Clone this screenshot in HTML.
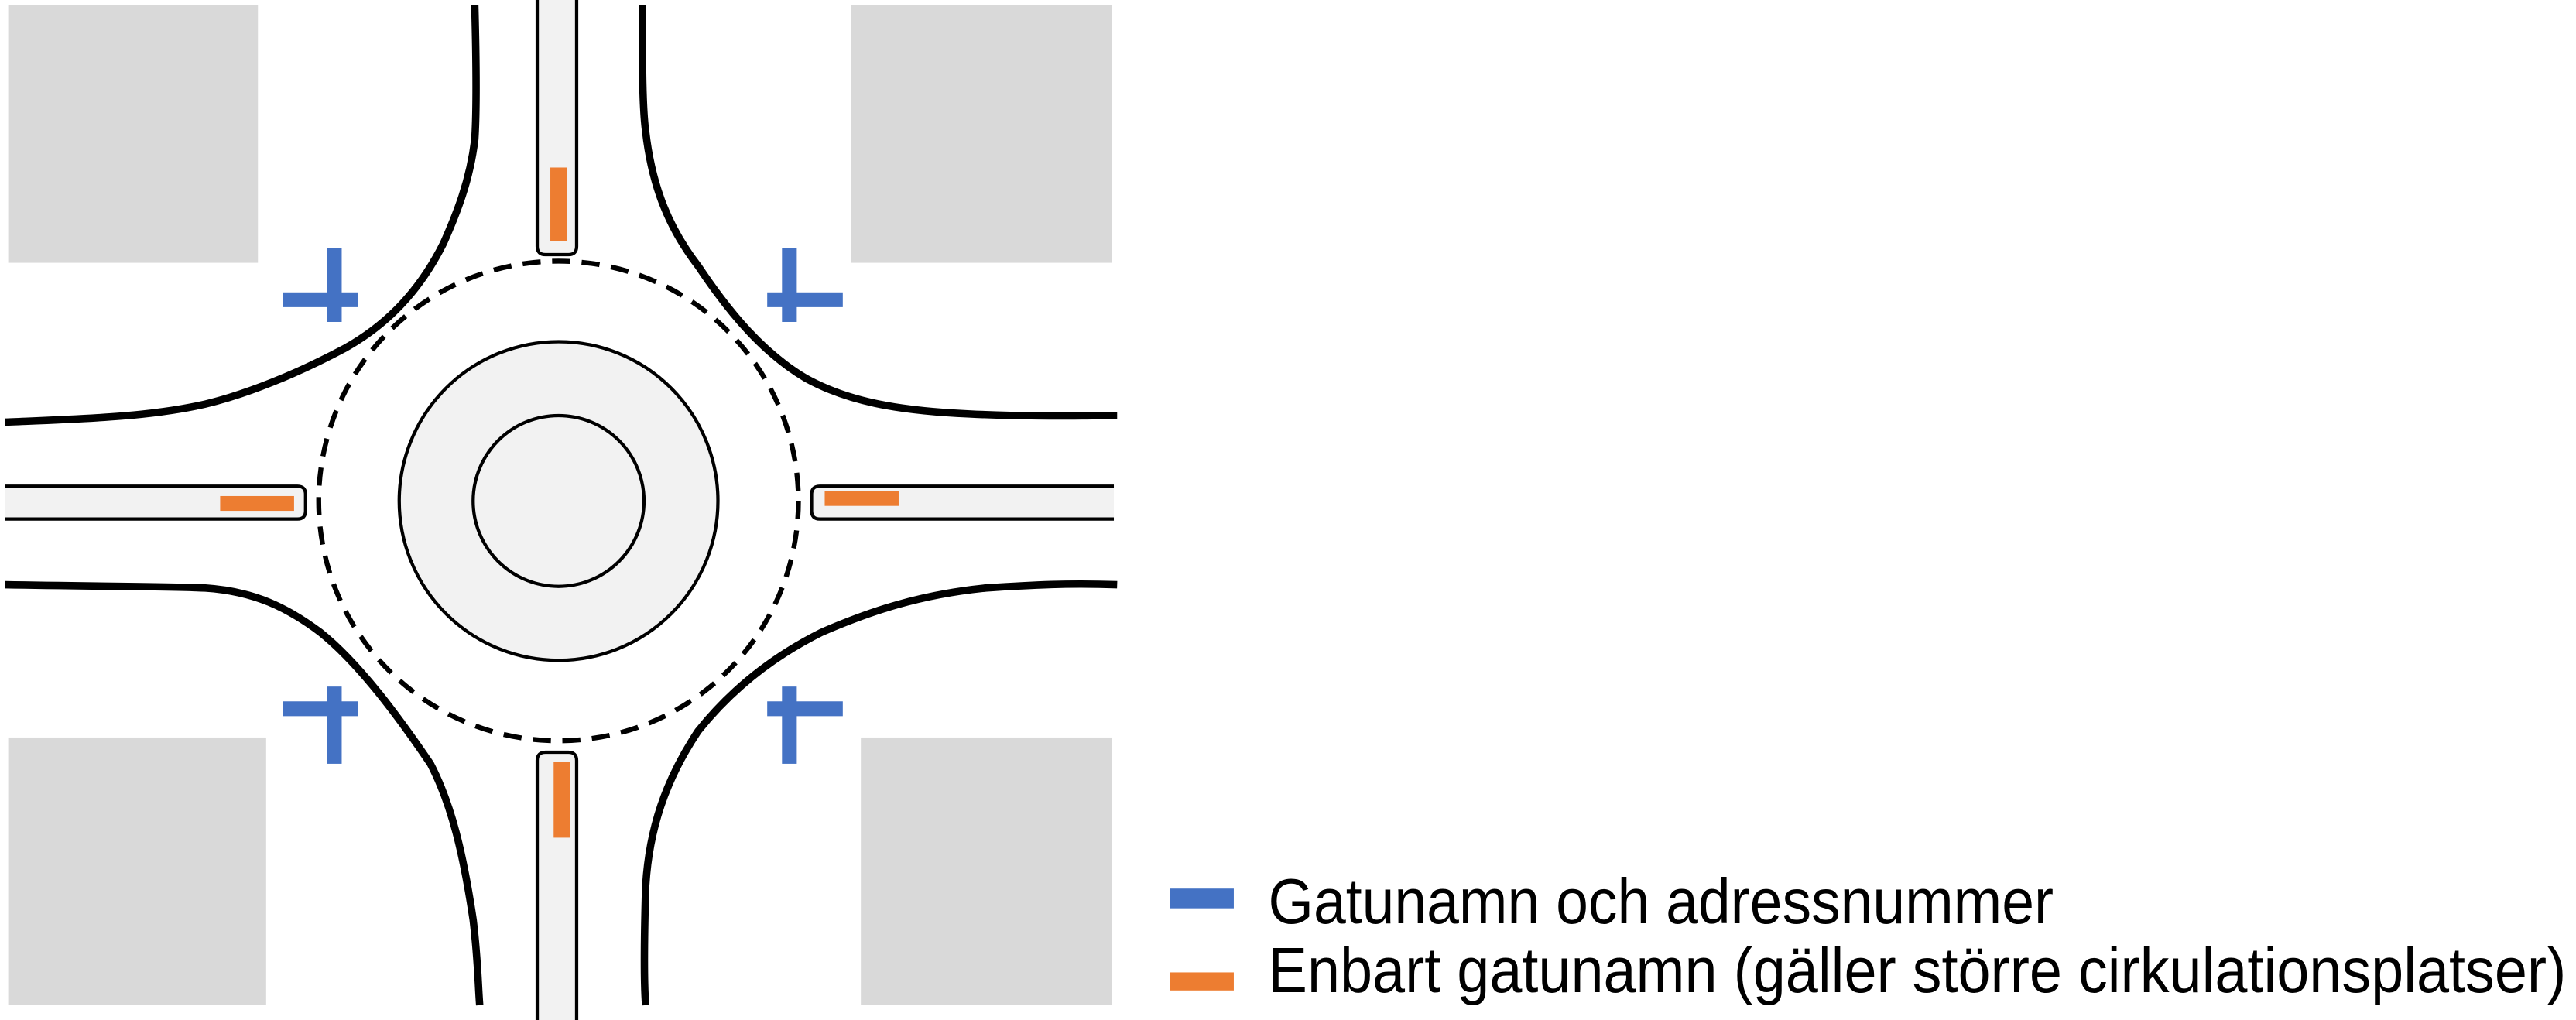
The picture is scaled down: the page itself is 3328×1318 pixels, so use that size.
<!DOCTYPE html>
<html><head><meta charset="utf-8"><style>html,body{margin:0;padding:0;background:#fff}svg{display:block}</style></head>
<body>
<svg width="3328" height="1318" viewBox="0 0 1568 621" preserveAspectRatio="none" xmlns="http://www.w3.org/2000/svg">
<rect x="0" y="0" width="1568" height="621" fill="#fff"/>
<g fill="#d9d9d9">
<rect x="5" y="3" width="152" height="157"/>
<rect x="518" y="3" width="159" height="157"/>
<rect x="5" y="449" width="157" height="163"/>
<rect x="524" y="449" width="153" height="163"/>
</g>
<g fill="none" stroke="#000" stroke-width="4.5">
<path d="M289,3 C290,40 290,70 289,85 C286,110 278,130 270,148 C255,178 235,198 210,212 C180,228 150,240 125,246 C90,254 50,255 3,257"/>
<path d="M391,3 C391,40 391,65 393,80 C397,115 408,140 425,162 C445,192 465,215 490,230 C515,244 545,250 590,252 C630,254 660,253 680,253"/>
<path d="M3,356 C60,357 100,357 125,358 C155,360 175,370 195,385 C220,405 245,440 262,465 C275,490 282,520 288,560 C291,585 291,600 292,612"/>
<path d="M680,356 C650,355 630,356 600,358 C560,362 530,372 500,385 C470,400 445,420 425,445 C405,475 395,505 393,540 C392,575 392,600 393,612"/>
</g>
<g fill="#f2f2f2" stroke="#000" stroke-width="2">
<path d="M327,0 L327,150 Q327,155 332,155 L346,155 Q351,155 351,150 L351,0"/>
<path d="M327,621 L327,463 Q327,458 332,458 L346,458 Q351,458 351,463 L351,621"/>
<path d="M3,296 L181,296 Q186,296 186,301 L186,311 Q186,316 181,316 L3,316"/>
<path d="M678,296 L499,296 Q494,296 494,301 L494,311 Q494,316 499,316 L678,316"/>
<circle cx="340" cy="305" r="97"/>
<circle cx="340" cy="305" r="52" stroke-width="2"/>
</g>
<circle cx="340" cy="305" r="146" fill="none" stroke="#000" stroke-width="3" stroke-dasharray="11,7"/>
<g fill="#ed7d31">
<rect x="335" y="102" width="10" height="45"/>
<rect x="337" y="464" width="10" height="46"/>
<rect x="134" y="302" width="45" height="9"/>
<rect x="502" y="299" width="45" height="9"/>
</g>
<g fill="#4472c4">
<rect x="172" y="178" width="46" height="9"/><rect x="199" y="151" width="9" height="45"/>
<rect x="467" y="178" width="46" height="9"/><rect x="476" y="151" width="9" height="45"/>
<rect x="172" y="427" width="46" height="9"/><rect x="199" y="418" width="9" height="47"/>
<rect x="467" y="427" width="46" height="9"/><rect x="476" y="418" width="9" height="47"/>
</g>
<rect x="712" y="541" width="39" height="12" fill="#4472c4"/>
<rect x="712" y="592" width="39" height="11" fill="#ed7d31"/>
<g font-family="'Liberation Sans', sans-serif" font-size="39" fill="#000">
<text x="772" y="562" textLength="478" lengthAdjust="spacingAndGlyphs">Gatunamn och adressnummer</text>
<text x="772" y="604" textLength="790" lengthAdjust="spacingAndGlyphs">Enbart gatunamn (gäller större cirkulationsplatser)</text>
</g>
</svg>
</body></html>
